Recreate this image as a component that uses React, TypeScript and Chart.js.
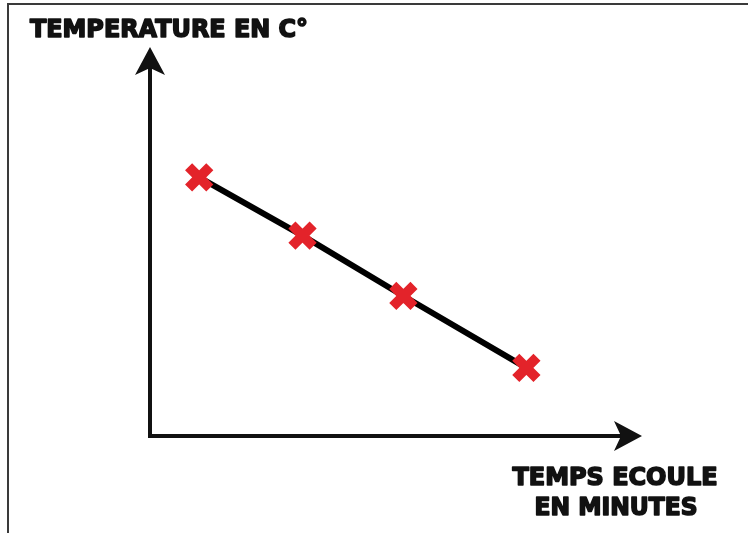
import React, { useEffect, useRef } from "react";
import { Chart, registerables } from "chart.js";

Chart.register(...registerables);

const timeMinutes = [1, 3.1, 5.15, 7.65];
const temperatureC = [6.65, 5.15, 3.6, 1.75];
const yTitle = "TEMPERATURE EN C°";
const xTitleLines = ["TEMPS ECOULE", "EN MINUTES"];

const FONT = '"DejaVu Sans", "Liberation Sans", Arial, sans-serif';

function fitText(ctx: CanvasRenderingContext2D, text: string, x: number, y: number, width: number, align: "left" | "center") {
  const w = ctx.measureText(text).width;
  const s = width / w;
  ctx.save();
  const startX = align === "left" ? x : x - width / 2;
  ctx.translate(startX, y);
  ctx.scale(s, 1);
  ctx.textAlign = "left";
  ctx.textBaseline = "alphabetic";
  ctx.lineWidth = 1.6;
  ctx.lineJoin = "round";
  ctx.strokeStyle = "#111";
  ctx.fillStyle = "#111";
  ctx.strokeText(text, 0, 0);
  ctx.fillText(text, 0, 0);
  ctx.restore();
}

const decorPlugin = {
  id: "decor",
  beforeDatasetsDraw(chart: any) {
    const { ctx, chartArea } = chart;
    const { left, top, right, bottom } = chartArea;
    ctx.save();
    // frame (top + left)
    ctx.strokeStyle = "#3a3a3a";
    ctx.lineWidth = 2;
    ctx.beginPath();
    ctx.moveTo(8, chart.height);
    ctx.lineTo(8, 4);
    ctx.lineTo(chart.width, 4);
    ctx.stroke();

    // axes
    ctx.strokeStyle = "#111";
    ctx.fillStyle = "#111";
    ctx.lineWidth = 4;
    ctx.lineCap = "square";
    ctx.beginPath();
    ctx.moveTo(left, top + 20);
    ctx.lineTo(left, bottom);
    ctx.lineTo(right - 20, bottom);
    ctx.stroke();

    // y arrowhead
    ctx.beginPath();
    ctx.moveTo(left, top);
    ctx.lineTo(left + 15, top + 28);
    ctx.lineTo(left, top + 21);
    ctx.lineTo(left - 15, top + 28);
    ctx.closePath();
    ctx.fill();

    // x arrowhead
    ctx.beginPath();
    ctx.moveTo(right, bottom);
    ctx.lineTo(right - 28, bottom - 15);
    ctx.lineTo(right - 21, bottom);
    ctx.lineTo(right - 28, bottom + 15);
    ctx.closePath();
    ctx.fill();

    // texts
    ctx.font = `bold 24px ${FONT}`;
    fitText(ctx, yTitle, 30, 37, 278, "left");
    fitText(ctx, xTitleLines[0], 615, 485, 205, "center");
    fitText(ctx, xTitleLines[1], 616, 515, 163, "center");
    ctx.restore();
  },
};

export default function App() {
  const ref = useRef<HTMLCanvasElement | null>(null);
  useEffect(() => {
    if (!ref.current) return;
    const chart = new Chart(ref.current, {
      type: "scatter",
      data: {
        datasets: [
          {
            data: timeMinutes.map((x, i) => ({ x, y: temperatureC[i] })),
            showLine: true,
            borderColor: "#000",
            borderWidth: 6,
            pointStyle: "crossRot",
            pointRadius: 15,
            pointHoverRadius: 15,
            pointBorderWidth: 10,
            pointHoverBorderWidth: 10,
            pointBorderColor: "#e3232a",
            pointBackgroundColor: "#e3232a",
          },
        ],
      },
      options: {
        animation: false,
        responsive: false,
        maintainAspectRatio: false,
        events: [],
        layout: { autoPadding: false, padding: { left: 150, top: 47, right: 106, bottom: 97 } },
        plugins: { legend: { display: false }, tooltip: { enabled: false }, title: { display: false } },
        scales: {
          x: { type: "linear", min: 0, max: 10, display: false },
          y: { type: "linear", min: 0, max: 10, display: false },
        },
      },
      plugins: [decorPlugin],
    });
    return () => chart.destroy();
  }, []);
  return (
    <div style={{ position: "absolute", left: 0, top: 0, width: 748, height: 533, background: "#fff" }}>
      <canvas ref={ref} width={748} height={533} style={{ width: 748, height: 533, display: "block" }} />
    </div>
  );
}
